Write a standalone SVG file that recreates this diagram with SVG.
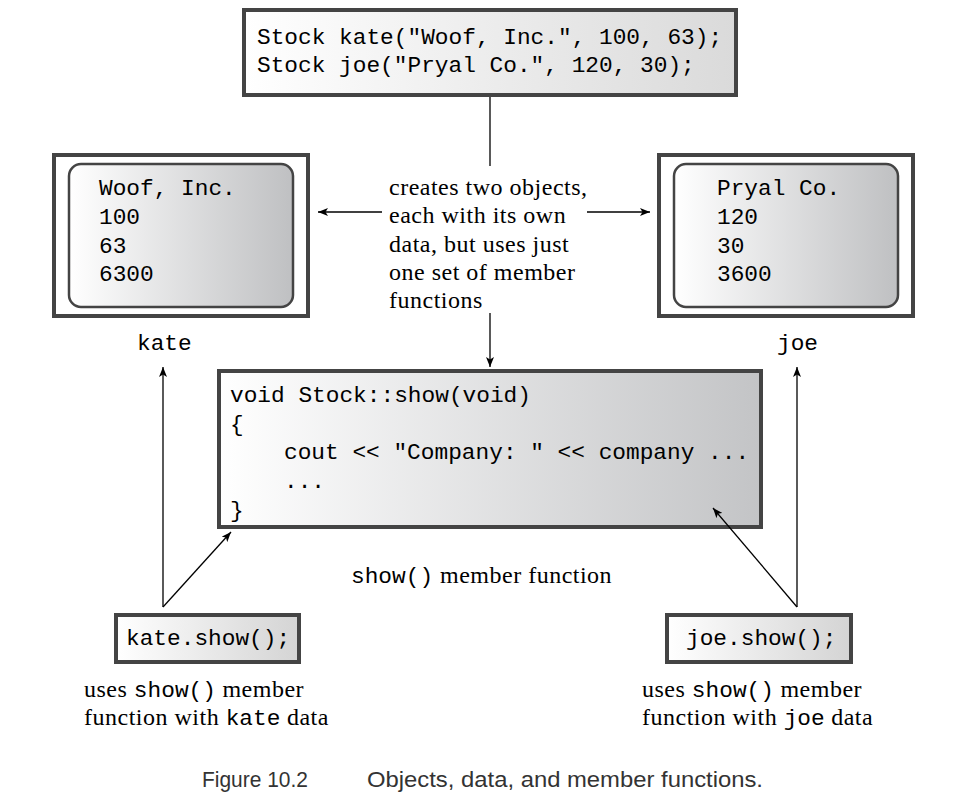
<svg xmlns="http://www.w3.org/2000/svg" width="980" height="796" viewBox="0 0 980 796">
<defs>
<linearGradient id="gTop" x1="0" y1="0" x2="1" y2="0"><stop offset="0" stop-color="#ffffff"/><stop offset="1" stop-color="#dadada"/></linearGradient>
<linearGradient id="gData" x1="0" y1="0" x2="1" y2="0"><stop offset="0" stop-color="#ffffff"/><stop offset="1" stop-color="#bfc0c2"/></linearGradient>
<linearGradient id="gMid" x1="0" y1="0" x2="1" y2="0"><stop offset="0" stop-color="#ffffff"/><stop offset="1" stop-color="#c3c4c6"/></linearGradient>
<linearGradient id="gSmall" x1="0" y1="0" x2="1" y2="0"><stop offset="0" stop-color="#ffffff"/><stop offset="1" stop-color="#d4d4d4"/></linearGradient>
<marker id="ah" viewBox="0 0 10 8" refX="10" refY="4" markerWidth="10" markerHeight="8" markerUnits="userSpaceOnUse" orient="auto">
<path d="M0,0 L10,4 L0,8 L2.5,4 Z" fill="#000"/>
</marker>
<style>
.box{stroke:#444;stroke-width:4}
.inner{stroke:#444;stroke-width:2.5}
.mono{font-family:"Liberation Mono","DejaVu Sans Mono",monospace;font-size:22.8px;fill:#000}
.serif{font-family:"Liberation Serif","Times New Roman",serif;font-size:24px;fill:#000;letter-spacing:0.5px}
.cap{font-family:"Liberation Sans",Arial,sans-serif;font-size:22px;fill:#333}
.conn line{stroke:#000;stroke-width:1.3;marker-end:url(#ah)}
</style>
</defs>
<rect width="980" height="796" fill="#fff"/>

<g id="decl">
<rect class="box" x="244" y="10" width="492" height="85" fill="url(#gTop)"/>
<text class="mono" x="257" y="44">Stock kate("Woof, Inc.", 100, 63);</text>
<text class="mono" x="257" y="72">Stock joe("Pryal Co.", 120, 30);</text>
</g>

<g id="kate-obj">
<rect class="box" x="54" y="155" width="254" height="161" fill="#fff"/>
<rect class="inner" x="69" y="164" width="224" height="143" rx="12" fill="url(#gData)"/>
<text class="mono" x="99" y="195">Woof, Inc.</text>
<text class="mono" x="99" y="224">100</text>
<text class="mono" x="99" y="253">63</text>
<text class="mono" x="99" y="281">6300</text>
</g>
<g id="kate-label"><text class="mono" x="137" y="350">kate</text></g>

<g id="joe-obj">
<rect class="box" x="659" y="155" width="254" height="161" fill="#fff"/>
<rect class="inner" x="674" y="164" width="224" height="143" rx="12" fill="url(#gData)"/>
<text class="mono" x="717" y="195">Pryal Co.</text>
<text class="mono" x="717" y="224">120</text>
<text class="mono" x="717" y="253">30</text>
<text class="mono" x="717" y="281">3600</text>
</g>
<g id="joe-label"><text class="mono" x="777" y="350">joe</text></g>

<g id="note">
<text class="serif" x="389" y="195">creates two objects,</text>
<text class="serif" x="389" y="223">each with its own</text>
<text class="serif" x="389" y="252">data, but uses just</text>
<text class="serif" x="389" y="280">one set of member</text>
<text class="serif" x="389" y="308">functions</text>
</g>

<g id="show-func">
<rect class="box" x="219" y="371" width="542" height="156" fill="url(#gMid)"/>
<text class="mono" x="230" y="402">void Stock::show(void)</text>
<text class="mono" x="230" y="431">{</text>
<text class="mono" x="284" y="459">cout &lt;&lt; "Company: " &lt;&lt; company ...</text>
<text class="mono" x="284" y="488">...</text>
<text class="mono" x="230" y="517">}</text>
</g>
<g id="show-label">
<text x="351" y="583"><tspan class="mono">show()</tspan><tspan class="serif" x="440">member function</tspan></text>
</g>

<g id="kate-call">
<rect class="box" x="116" y="615" width="183" height="47" fill="url(#gSmall)"/>
<text class="mono" x="126" y="645">kate.show();</text>
<text x="84" y="697"><tspan class="serif">uses </tspan><tspan class="mono">show()</tspan><tspan class="serif"> member</tspan></text>
<text x="84" y="725"><tspan class="serif">function with </tspan><tspan class="mono">kate</tspan><tspan class="serif"> data</tspan></text>
</g>

<g id="joe-call">
<rect class="box" x="667" y="615" width="184" height="47" fill="url(#gSmall)"/>
<text class="mono" x="686" y="645">joe.show();</text>
<text x="642" y="697"><tspan class="serif">uses </tspan><tspan class="mono">show()</tspan><tspan class="serif"> member</tspan></text>
<text x="642" y="725"><tspan class="serif">function with </tspan><tspan class="mono">joe</tspan><tspan class="serif"> data</tspan></text>
</g>

<g id="connectors" class="conn">
<line x1="490" y1="97" x2="490" y2="166" style="marker-end:none"/>
<line x1="490" y1="313" x2="490" y2="367"/>
<line x1="382" y1="212" x2="318" y2="212"/>
<line x1="587" y1="212" x2="650" y2="212"/>
<line x1="163" y1="607" x2="163" y2="367"/>
<line x1="163" y1="607" x2="231" y2="532"/>
<line x1="797" y1="607" x2="797" y2="367"/>
<line x1="797" y1="607" x2="713" y2="508"/>
</g>

<g id="caption">
<text class="cap" x="202" y="787" textLength="106" lengthAdjust="spacingAndGlyphs">Figure 10.2</text>
<text class="cap" x="367" y="787" textLength="396" lengthAdjust="spacingAndGlyphs">Objects, data, and member functions.</text>
</g>
</svg>
